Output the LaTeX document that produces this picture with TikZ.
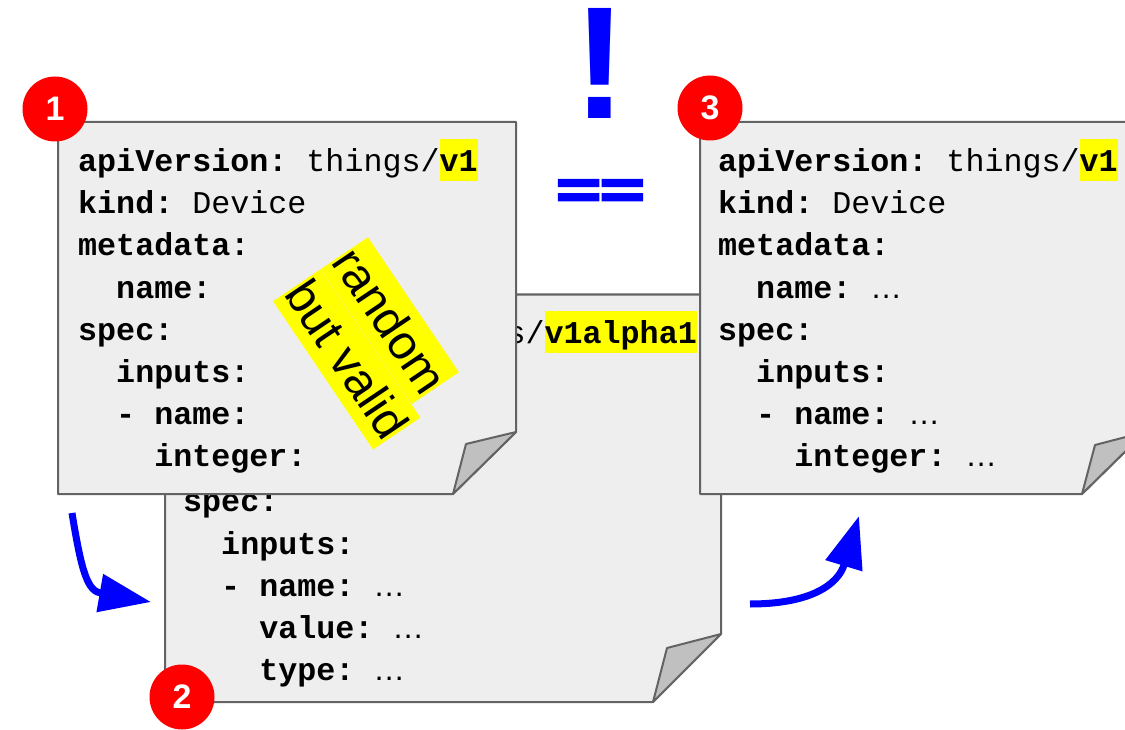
\documentclass[tikz,border=0pt]{standalone}
\usepackage{fontspec}
\setmainfont{Liberation Sans}
\newfontfamily\monofont{Liberation Mono}
\newfontfamily\ellipfont{Liberation Sans}
\newfontfamily\heavyfont[FakeBold=5]{Liberation Sans Bold}
\usetikzlibrary{arrows.meta}

\definecolor{paper}{HTML}{EEEEEE}
\definecolor{edge}{HTML}{636363}
\definecolor{flap}{HTML}{C0C0C0}
\definecolor{hlyellow}{HTML}{FFFF00}
\definecolor{badgered}{HTML}{FF0000}
\definecolor{flowblue}{HTML}{0000FF}

% monospaced code lines
\newdimen\codecw \codecw=19.02pt
\newcommand\codefont{\monofont\fontsize{31.7}{42.2}\selectfont\frenchspacing}
\newcommand\kw[1]{\textbf{#1}}
\newcommand\ind[1]{\hspace*{#1\codecw}}
\newcommand\hl[1]{{\setlength{\fboxsep}{0pt}\colorbox{hlyellow}{\rule[-9.5pt]{0pt}{42pt}#1}}}
\newcommand\elide{{\ellipfont …}}

\begin{document}
\begin{tikzpicture}[x=1pt,y=-1pt,
  sheet/.style={draw=edge, line width=2pt, fill=paper, line join=round},
  flapfold/.style={draw=edge, line width=2pt, fill=flap, line join=round},
  code/.style={anchor=base west, inner sep=0pt, font=\codefont},
  badge/.style={circle, fill=badgered, minimum size=65pt, inner sep=0pt,
    text=white, font=\fontsize{34}{34}\selectfont\bfseries},
  tag/.style={fill=hlyellow, inner sep=0pt, rotate=-56, anchor=north west,
    font=\fontsize{48}{57}\selectfont, text height=45pt, text depth=12pt},
  flow/.style={draw=flowblue, line width=7pt,
    -{Triangle[length=52pt,width=37pt]}},
  bluemark/.style={text=flowblue, inner sep=0pt, anchor=base}
]
\useasboundingbox (0,0) rectangle (1125,730);
\clip (0,0) rectangle (1125,730);
\fill[white] (0,0) rectangle (1125,730);

% ---- sheet 2 (behind) ----
\draw[sheet] (165,294.5) -- (721,294.5) -- (721,634) -- (653,702) -- (165,702) -- cycle;
\draw[flapfold] (721,634) -- (667,648) -- (653,702) -- cycle;
\node[code] (b1) at (183,343)   {\kw{apiVersion:} things/\hl{\kw{v1alpha1}}};
\node[code] (b5) at (183,511.8) {\kw{spec:}};
\node[code] (b6) at (183,554)   {\ind2\kw{inputs:}};
\node[code] (b7) at (183,596.2) {\ind2\kw{- name:} \elide};
\node[code] (b8) at (183,638.4) {\ind4\kw{value:} \elide};
\node[code] (b9) at (183,680.6) {\ind4\kw{type:} \elide};

% ---- sheet 1 ----
\draw[sheet] (58,122) -- (516,122) -- (516,432) -- (453,494) -- (58,494) -- cycle;
\draw[flapfold] (516,432) -- (466,444) -- (453,494) -- cycle;
\node[code] (a1) at (78,171.5) {\kw{apiVersion:} things/\hl{\kw{v1}}};
\node[code] (a2) at (78,213.7) {\kw{kind:} Device};
\node[code] (a3) at (78,255.9) {\kw{metadata:}};
\node[code] (a4) at (78,298.1) {\ind2\kw{name:}};
\node[code] (a5) at (78,340.3) {\kw{spec:}};
\node[code] (a6) at (78,382.5) {\ind2\kw{inputs:}};
\node[code] (a7) at (78,424.7) {\ind2\kw{- name:}};
\node[code] (a8) at (78,466.9) {\ind4\kw{integer:}};
\node[tag] (tagA) at (368,237) {random};
\node[tag] (tagB) at (tagA.south west) {but valid};

% ---- sheet 3 ----
\draw[sheet] (700,122) -- (1145,122) -- (1145,432) -- (1082,494) -- (700,494) -- cycle;
\draw[flapfold] (1145,432) -- (1095,445) -- (1082,494) -- cycle;
\node[code] (c1) at (718,171.5) {\kw{apiVersion:} things/\hl{\kw{v1}}};
\node[code] (c2) at (718,213.7) {\kw{kind:} Device};
\node[code] (c3) at (718,255.9) {\kw{metadata:}};
\node[code] (c4) at (718,298.1) {\ind2\kw{name:} \elide};
\node[code] (c5) at (718,340.3) {\kw{spec:}};
\node[code] (c6) at (718,382.5) {\ind2\kw{inputs:}};
\node[code] (c7) at (718,424.7) {\ind2\kw{- name:} \elide};
\node[code] (c8) at (718,466.9) {\ind4\kw{integer:} \elide};

% ---- numbered badges ----
\node[badge] (n1) at (55,109)  {1};
\node[badge] (n2) at (182,697) {2};
\node[badge] (n3) at (710,108) {3};

% ---- equality marks ----
\node[bluemark, font=\fontsize{160}{160}\selectfont\bfseries,
  text height=115pt, text depth=0pt] (bang) at (600,119) {!};
\node[bluemark, font=\heavyfont\fontsize{75}{75}\selectfont]
  (eq) at (600.5,207.5) {\scalebox{1}[0.7]{==}};

% ---- flow arrows ----
\coordinate (f1s) at (72,513);
\coordinate (f1e) at (151,602);
\draw[flow] (f1s) .. controls (82,575) and (88,591) .. (f1e);
\coordinate (f2s) at (750,604);
\coordinate (f2e) at (859,516);
\draw[flow] (f2s) .. controls (810,604) and (838,585) .. (f2e);
\end{tikzpicture}
\end{document}
